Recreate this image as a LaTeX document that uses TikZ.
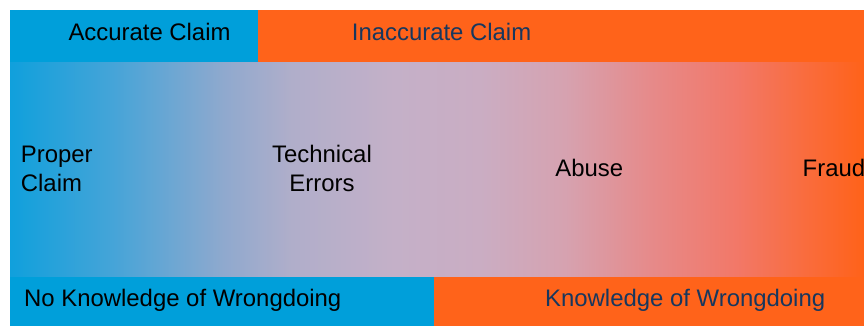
\documentclass[tikz,border=0pt]{standalone}
\usepackage{fontspec}
\setmainfont{Liberation Sans}
\definecolor{cblue}{HTML}{009FDA}
\definecolor{corange}{HTML}{FF631A}
\definecolor{navy}{HTML}{17375E}
\definecolor{g0}{HTML}{10A0DC}
\definecolor{g1}{HTML}{45A4D8}
\definecolor{g2}{HTML}{8FA9CE}
\definecolor{g3}{HTML}{B0AECA}
\definecolor{g4}{HTML}{C4B0C8}
\definecolor{g5}{HTML}{CAADC3}
\definecolor{g6}{HTML}{D6A2B0}
\definecolor{g7}{HTML}{E68A8A}
\definecolor{g8}{HTML}{F27868}
\definecolor{g9}{HTML}{FF6219}
\pgfdeclarehorizontalshading{claimgrad}{100bp}{color(0bp)=(g0); color(25bp)=(g0); color(31bp)=(g1); color(37.5bp)=(g2); color(41.5bp)=(g3); color(47.5bp)=(g4); color(52.5bp)=(g5); color(57.5bp)=(g6); color(62.5bp)=(g7); color(67.5bp)=(g8); color(75bp)=(g9); color(100bp)=(g9)}
\tikzset{
  lbl/.style={inner sep=0pt, font=\fontsize{23.9}{28.8}\selectfont, text=black},
  navylbl/.style={lbl, text=navy}
}
\begin{document}
\begin{tikzpicture}[x=1pt,y=-1pt]
\useasboundingbox (0,0) rectangle (864,326);
% bands
\fill[cblue] (10,10) rectangle (258,62.7);
\fill[corange] (258,10) rectangle (864,62.7);
\shade[shading=claimgrad] (10,62.7) rectangle (864,276.7);
\fill[cblue] (10,276.7) rectangle (433.7,326);
\fill[corange] (433.7,276.7) rectangle (864,326);
% labels
\node[lbl, anchor=base west] (acc) at (68.3,41) {Accurate Claim};
\node[navylbl, anchor=base west] (inacc) at (351.7,41) {Inaccurate Claim};
\node[lbl, anchor=base west] (proper) at (20.7,162.7) {\begin{tabular}[t]{@{}l@{}}Proper\\Claim\end{tabular}};
\node[lbl, anchor=base] (tech) at (322,162.7) {\begin{tabular}[t]{@{}c@{}}Technical\\Errors\end{tabular}};
\node[lbl, anchor=base west] (abuse) at (555.2,176.5) {Abuse};
\node[lbl, anchor=base west] (fraud) at (802.5,176.5) {Fraud};
\node[lbl, anchor=base west] (noknow) at (24,306.7) {No Knowledge of Wrongdoing};
\node[navylbl, anchor=base west] (know) at (545,306.7) {Knowledge of Wrongdoing};
\end{tikzpicture}
\end{document}
